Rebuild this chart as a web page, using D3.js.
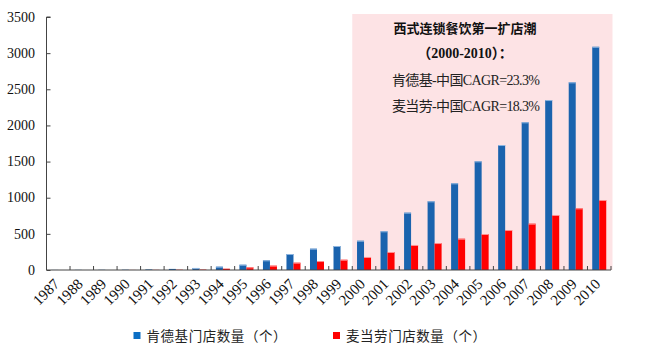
<!DOCTYPE html>
<html><head><meta charset="utf-8">
<script src="https://cdn.jsdelivr.net/npm/d3@7"></script>
<style>
body{margin:0;background:#fff;}
svg{display:block;}
</style></head>
<body>
<svg id="chart" width="645" height="356"></svg>
<script>
const years = ["1987","1988","1989","1990","1991","1992","1993","1994","1995","1996","1997","1998","1999","2000","2001","2002","2003","2004","2005","2006","2007","2008","2009","2010"];
const kfcStores = [1,2,3,4,8,15,28,46,73,134,221,295,332,405,535,793,950,1199,1503,1729,2043,2351,2596,3088];
const mcdStores = [0,0,0,1,2,4,6,18,37,60,101,124,142,180,249,346,373,433,498,553,641,761,853,968];
const yTicks = [0,500,1000,1500,2000,2500,3000,3500];
const seriesNames = ["肯德基门店数量（个）","麦当劳门店数量（个）"];
const seriesColors = ["#1a63ae","#ff0000"];
const highlightRange = ["2000","2010"];
const noteLines = ["西式连锁餐饮第一扩店潮","（2000-2010）：","肯德基-中国CAGR=23.3%","麦当劳-中国CAGR=18.3%"];

const svg = d3.select("#chart");
const m = {left:46.5, right:611, top:17, bottom:270};
const x = d3.scaleBand().domain(years).range([m.left, m.right]).paddingInner(0).paddingOuter(0);
const y = d3.scaleLinear().domain([0,3500]).range([m.bottom, m.top]);
const serif = "'Liberation Serif','Times New Roman',serif";
const cjk = "'Noto Sans CJK SC','Liberation Serif',serif";

// highlight band
svg.append("rect")
  .attr("x", x(highlightRange[0]))
  .attr("y", 14)
  .attr("width", x(highlightRange[1]) + x.bandwidth() - x(highlightRange[0]) + 1.5)
  .attr("height", m.bottom - 14)
  .attr("fill", "#fde3e5");

// bars
const bw = 7;
const offs = [x.bandwidth()/2 - bw, x.bandwidth()/2];
[kfcStores, mcdStores].forEach((vals, si) => {
  svg.append("g").selectAll("rect").data(years.map((yr,i)=>({yr, v: vals[i]})))
    .join("rect")
    .attr("x", d => x(d.yr) + offs[si])
    .attr("y", d => y(d.v))
    .attr("width", bw)
    .attr("height", d => y(0) - y(d.v))
    .attr("fill", seriesColors[si]);
  svg.append("g").selectAll("line").data(years.map((yr,i)=>({yr, v: vals[i]})).filter(d=>d.v>=20))
    .join("line")
    .attr("x1", d => x(d.yr) + offs[si])
    .attr("x2", d => x(d.yr) + offs[si] + bw)
    .attr("y1", d => y(d.v) + 0.5)
    .attr("y2", d => y(d.v) + 0.5)
    .attr("stroke", si === 0 ? "#8fb6e0" : "#ff9090")
    .attr("stroke-width", 1);
});

// y axis
const yAxis = svg.append("g").attr("transform", `translate(${m.left},0)`)
  .call(d3.axisRight(y).tickValues(yTicks).tickSize(4).tickFormat(""));
yAxis.select(".domain").attr("stroke","#444").attr("d", `M4,${m.top}H0V${m.bottom}`);
yAxis.selectAll(".tick line").attr("stroke","#444");
svg.append("g").selectAll("text").data(yTicks).join("text")
  .attr("x", 35).attr("y", d => y(d)).attr("dy","0.34em")
  .attr("text-anchor","end")
  .attr("font-family", serif).attr("font-size", 14).attr("fill","#111")
  .text(d => d);

// x axis
const bounds = years.map(yr => x(yr)).concat([m.right]);
svg.append("line").attr("x1", m.left).attr("x2", m.right).attr("y1", m.bottom).attr("y2", m.bottom)
  .attr("stroke","#444").attr("stroke-width",1);
svg.append("g").selectAll("line").data(bounds.slice(1)).join("line")
  .attr("x1", d=>d).attr("x2", d=>d).attr("y1", m.bottom).attr("y2", m.bottom-4)
  .attr("stroke","#444");
svg.append("g").selectAll("text").data(years).join("text")
  .attr("transform", d => `translate(${x(d) + x.bandwidth()/2 + 2},${m.bottom + 15}) rotate(-45)`)
  .attr("text-anchor","end")
  .attr("font-family", serif).attr("font-size", 15).attr("fill","#111")
  .text(d => d);

// annotation
const noteX = 465;
svg.append("text").attr("x", noteX).attr("y", 28).attr("dy","0.35em").attr("text-anchor","middle")
  .attr("font-family", cjk).attr("font-weight","bold").attr("font-size", 13).attr("fill","#111")
  .text(noteLines[0]);
svg.append("text").attr("x", noteX).attr("y", 53.5).attr("dy","0.35em").attr("text-anchor","middle")
  .attr("font-family", "'Liberation Serif','Noto Sans CJK SC',serif").attr("font-weight","bold").attr("font-size", 14).attr("fill","#111")
  .text(noteLines[1]);
[noteLines[2], noteLines[3]].forEach((t,i) => {
  svg.append("text").attr("x", 392).attr("y", 80 + i*26.5).attr("dy","0.35em")
    .attr("font-family", "'Liberation Serif','Noto Sans CJK SC',serif").attr("font-size", 14).attr("fill","#222")
    .attr("textLength", 148).attr("lengthAdjust","spacing")
    .text(t);
});

// legend
const legendItems = [{x:133.5, name: seriesNames[0], color:"#0b6fc4"},{x:333, name: seriesNames[1], color:"#ff0000"}];
legendItems.forEach(it => {
  svg.append("rect").attr("x", it.x).attr("y", 332).attr("width", 7).attr("height", 7).attr("fill", it.color);
  svg.append("text").attr("x", it.x + 13).attr("y", 336).attr("dy","0.35em")
    .attr("font-family", cjk).attr("font-size", 13.5).attr("fill","#222")
    .attr("textLength", 140).attr("lengthAdjust","spacing")
    .text(it.name);
});
</script>
</body></html>
